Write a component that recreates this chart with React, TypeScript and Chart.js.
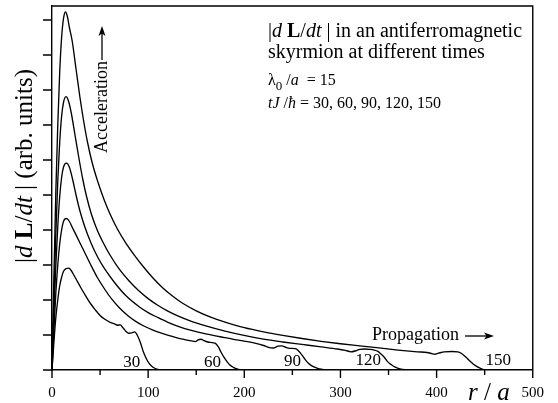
import React, { useEffect, useRef } from 'react';
import { Chart, registerables } from 'chart.js';
Chart.register(...registerables);

const SERIF = '"Liberation Serif", "Times New Roman", serif';

// x-axis tick labels (r/a)
const xTickValues = [0, 100, 200, 300, 400, 500];
const xMinorValues = [50, 150, 250, 350, 450];
const yTickValues = [0, 1, 2, 3, 4, 5, 6, 7, 8, 9, 10];

// Series: tJ/hbar = 30
const r30 = [0, 2, 4, 6, 8, 10, 12, 15, 17, 19, 22, 25, 30, 35, 40, 45, 50, 55, 60, 65, 68, 71, 74, 77, 80, 83, 86, 89, 92, 95, 98, 101, 105, 110, 120];
const v30 = [0, 0.8, 1.5, 2.0, 2.4, 2.65, 2.82, 2.9, 2.91, 2.88, 2.75, 2.6, 2.35, 2.12, 1.9, 1.72, 1.56, 1.45, 1.37, 1.32, 1.28, 1.29, 1.2, 1.1, 1.05, 1.06, 1.09, 0.98, 0.78, 0.52, 0.33, 0.19, 0.08, 0.02, 0];

// tJ/hbar = 60
const r60 = [0, 2, 4, 6, 8, 10, 12, 15, 18, 21, 25, 30, 35, 40, 47, 55, 62, 70, 79, 87, 96, 105, 113, 122, 130, 138, 145, 149, 152, 155, 158, 162, 167, 170, 173, 176, 179, 182, 185, 189, 194, 200];
const v60 = [0, 1.15, 2.2, 3.0, 3.6, 4.0, 4.25, 4.33, 4.25, 4.08, 3.86, 3.58, 3.3, 3.02, 2.65, 2.3, 2.03, 1.78, 1.55, 1.39, 1.25, 1.14, 1.06, 0.98, 0.92, 0.87, 0.83, 0.81, 0.86, 0.88, 0.84, 0.8, 0.78, 0.76, 0.66, 0.5, 0.36, 0.24, 0.14, 0.07, 0.02, 0];

// tJ/hbar = 90
const r90 = [0, 2, 4, 6, 8, 10, 12, 15, 18, 21, 25, 29, 34, 41, 48, 55, 65, 77, 91, 100, 110, 120, 132, 145, 160, 175, 190, 201, 212, 220, 226, 230, 235, 239, 243, 247, 253, 256, 259, 262, 265, 269, 273, 278, 285];
const v90 = [0, 1.6, 3.0, 4.1, 4.95, 5.5, 5.8, 5.91, 5.8, 5.5, 5.0, 4.55, 4.1, 3.6, 3.2, 2.88, 2.5, 2.12, 1.8, 1.64, 1.5, 1.37, 1.24, 1.13, 1.03, 0.95, 0.87, 0.82, 0.76, 0.7, 0.64, 0.63, 0.68, 0.69, 0.65, 0.62, 0.61, 0.56, 0.46, 0.35, 0.24, 0.14, 0.08, 0.03, 0];

// tJ/hbar = 120
const r120 = [0, 2, 4, 6, 8, 10, 12, 14.5, 17, 20, 24, 28, 32, 36, 41, 47, 53, 60, 70, 80, 90, 100, 110, 120, 132, 145, 160, 180, 201, 220, 240, 260, 280, 297, 305, 311, 316, 320, 325, 330, 335, 339, 342, 346, 349, 353, 357, 362, 370];
const v120 = [0, 2.1, 3.9, 5.4, 6.5, 7.25, 7.65, 7.81, 7.7, 7.35, 6.7, 6.05, 5.45, 4.95, 4.45, 4.0, 3.65, 3.3, 2.88, 2.55, 2.27, 2.04, 1.85, 1.69, 1.53, 1.39, 1.26, 1.11, 0.98, 0.88, 0.8, 0.73, 0.66, 0.6, 0.56, 0.52, 0.55, 0.59, 0.6, 0.59, 0.57, 0.53, 0.46, 0.35, 0.24, 0.15, 0.08, 0.03, 0];

// tJ/hbar = 150
const r150 = [0, 2, 4, 6, 8, 10, 12, 14, 16, 18, 21, 25, 29, 33, 37, 42, 48, 54, 60, 68, 77, 86, 95, 105, 115, 125, 135, 150, 165, 180, 200, 220, 240, 260, 280, 300, 320, 340, 360, 380, 390, 395, 398, 402, 408, 416, 422, 426, 430, 434, 438, 443, 448, 455];
const v150 = [0, 2.7, 5.1, 7.0, 8.5, 9.5, 10.05, 10.23, 10.1, 9.8, 9.4, 8.6, 7.8, 7.1, 6.5, 5.9, 5.35, 4.88, 4.48, 4.03, 3.62, 3.27, 2.95, 2.63, 2.35, 2.12, 1.92, 1.69, 1.51, 1.37, 1.21, 1.09, 0.99, 0.9, 0.82, 0.75, 0.69, 0.63, 0.57, 0.52, 0.5, 0.47, 0.45, 0.48, 0.52, 0.53, 0.52, 0.47, 0.38, 0.27, 0.17, 0.08, 0.02, 0];

const seriesLabels = ['30', '60', '90', '120', '150'];
const seriesR = [r30, r60, r90, r120, r150];
const seriesV = [v30, v60, v90, v120, v150];
// where each time label sits (data coordinates r, value)
const labelR = [83, 167, 250, 329, 464];
const labelV = [0.05, 0.05, 0.08, 0.12, 0.12];

type Seg = { t: string; f: string; dy?: number };
const fnt = (size: number, style = '', weight = '') => `${style} ${weight} ${size}px ${SERIF}`.trim();

function drawSegs(ctx: CanvasRenderingContext2D, x: number, y: number, segs: Seg[]) {
  let cx = x;
  for (const s of segs) {
    ctx.font = s.f;
    ctx.fillText(s.t, cx, y + (s.dy || 0));
    cx += ctx.measureText(s.t).width;
  }
  return cx;
}

const decorations = {
  id: 'decorations',
  afterDraw(chart: any) {
    const ctx: CanvasRenderingContext2D = chart.ctx;
    const { left, right, top, bottom } = chart.chartArea;
    const xs = chart.scales.x;
    const ys = chart.scales.y;
    ctx.save();
    ctx.strokeStyle = '#000';
    ctx.fillStyle = '#000';
    ctx.lineWidth = 1.4;
    // frame top & right
    ctx.beginPath();
    ctx.moveTo(left, top);
    ctx.lineTo(right, top);
    ctx.lineTo(right, bottom);
    ctx.stroke();
    // x ticks
    ctx.beginPath();
    for (const v of xTickValues) {
      const p = xs.getPixelForValue(v);
      ctx.moveTo(p, bottom);
      ctx.lineTo(p, bottom + 8);
    }
    for (const v of xMinorValues) {
      const p = xs.getPixelForValue(v);
      ctx.moveTo(p, bottom);
      ctx.lineTo(p, bottom + 5);
    }
    // y ticks
    for (const v of yTickValues) {
      const p = ys.getPixelForValue(v);
      ctx.moveTo(left - 9, p);
      ctx.lineTo(left, p);
    }
    ctx.stroke();

    ctx.textBaseline = 'alphabetic';
    ctx.textAlign = 'left';

    // y-axis title
    ctx.save();
    ctx.translate(32, 263);
    ctx.rotate(-Math.PI / 2);
    const ys25 = 25;
    drawSegs(ctx, 0, 0, [
      { t: '|', f: fnt(ys25) },
      { t: 'd', f: fnt(ys25, 'italic') },
      { t: ' ', f: fnt(ys25) },
      { t: 'L', f: fnt(ys25, '', 'bold') },
      { t: '/', f: fnt(ys25) },
      { t: 'dt', f: fnt(ys25, 'italic') },
      { t: ' | (arb. units)', f: fnt(ys25) },
    ]);
    ctx.restore();

    // x-axis title r / a
    drawSegs(ctx, 468, 400, [
      { t: 'r', f: fnt(25, 'italic') },
      { t: ' / ', f: fnt(25) },
      { t: 'a', f: fnt(25, 'italic') },
    ]);

    // annotation block
    drawSegs(ctx, 268, 37, [
      { t: '|', f: fnt(20) },
      { t: 'd', f: fnt(20, 'italic') },
      { t: ' ', f: fnt(20) },
      { t: 'L', f: fnt(20, '', 'bold') },
      { t: '/', f: fnt(20) },
      { t: 'dt', f: fnt(20, 'italic') },
      { t: ' | in an antiferromagnetic', f: fnt(20) },
    ]);
    drawSegs(ctx, 268, 58, [{ t: 'skyrmion at different times', f: fnt(20) }]);
    drawSegs(ctx, 268, 85, [
      { t: 'λ', f: fnt(16) },
      { t: '0', f: fnt(13), dy: 5 },
      { t: ' /', f: fnt(16) },
      { t: 'a', f: fnt(16, 'italic') },
      { t: '  = 15', f: fnt(16) },
    ]);
    drawSegs(ctx, 268, 108, [
      { t: 'tJ', f: fnt(16, 'italic') },
      { t: ' /', f: fnt(16) },
      { t: 'ħ', f: fnt(16, 'italic') },
      { t: ' = 30, 60, 90, 120, 150', f: fnt(16) },
    ]);

    // Acceleration with arrow
    ctx.save();
    ctx.translate(106.5, 153);
    ctx.rotate(-Math.PI / 2);
    ctx.font = fnt(18);
    ctx.fillText('Acceleration', 0, 0);
    const aw = ctx.measureText('Acceleration').width;
    ctx.restore();
    const ax = 102;
    const aStart = 153 - aw - 1;
    ctx.lineWidth = 1.3;
    ctx.beginPath();
    ctx.moveTo(ax, aStart);
    ctx.lineTo(ax, 32);
    ctx.stroke();
    ctx.beginPath();
    ctx.moveTo(ax, 26);
    ctx.lineTo(ax - 3.5, 36);
    ctx.lineTo(ax, 33.5);
    ctx.lineTo(ax + 3.5, 36);
    ctx.closePath();
    ctx.fill();

    // Propagation with arrow
    ctx.font = fnt(18);
    ctx.fillText('Propagation', 372, 340);
    const pw = ctx.measureText('Propagation').width;
    const py = 336;
    ctx.beginPath();
    ctx.moveTo(372 + pw + 6, py);
    ctx.lineTo(488, py);
    ctx.stroke();
    ctx.beginPath();
    ctx.moveTo(494, py);
    ctx.lineTo(484, py - 3.5);
    ctx.lineTo(486.5, py);
    ctx.lineTo(484, py + 3.5);
    ctx.closePath();
    ctx.fill();

    // time labels
    ctx.font = fnt(17);
    ctx.textAlign = 'center';
    seriesLabels.forEach((lab, i) => {
      ctx.fillText(lab, xs.getPixelForValue(labelR[i]), ys.getPixelForValue(labelV[i]) - 1);
    });
    ctx.restore();
  },
};

export default function App() {
  const ref = useRef<HTMLCanvasElement>(null);
  useEffect(() => {
    document.body.style.margin = '0';
    const canvas = ref.current!;
    const datasets = seriesR.map((rs, i) => ({
      label: seriesLabels[i],
      data: rs.map((x, j) => ({ x, y: seriesV[i][j] })),
      borderColor: '#000',
      borderWidth: 1.35,
      pointRadius: 0,
      fill: false,
      cubicInterpolationMode: 'monotone' as const,
    }));
    const chart = new Chart(canvas, {
      type: 'line',
      data: { datasets },
      plugins: [decorations],
      options: {
        responsive: false,
        animation: false,
        devicePixelRatio: 1,
        layout: { padding: { left: 0, right: 22, top: 6, bottom: 0 } },
        plugins: { legend: { display: false }, tooltip: { enabled: false } },
        scales: {
          x: {
            type: 'linear',
            min: 0,
            max: 500,
            afterFit: (s: any) => { s.height = 33; },
            ticks: {
              stepSize: 100,
              color: '#000',
              padding: 14,
              maxRotation: 0,
              font: { family: SERIF, size: 15 },
            },
            grid: { display: false, drawTicks: false, tickLength: 0 },
            border: { display: true, color: '#000', width: 1.4 },
          },
          y: {
            type: 'linear',
            min: 0,
            max: 10.4,
            afterFit: (s: any) => { s.width = 52; },
            ticks: { display: false, stepSize: 1 },
            grid: { display: false, drawTicks: false },
            border: { display: true, color: '#000', width: 1.4 },
          },
        },
      },
    } as any);
    return () => chart.destroy();
  }, []);
  return (
    <div style={{ width: 558, height: 403 }}>
      <canvas ref={ref} width={558} height={403} style={{ display: 'block' }} />
    </div>
  );
}
